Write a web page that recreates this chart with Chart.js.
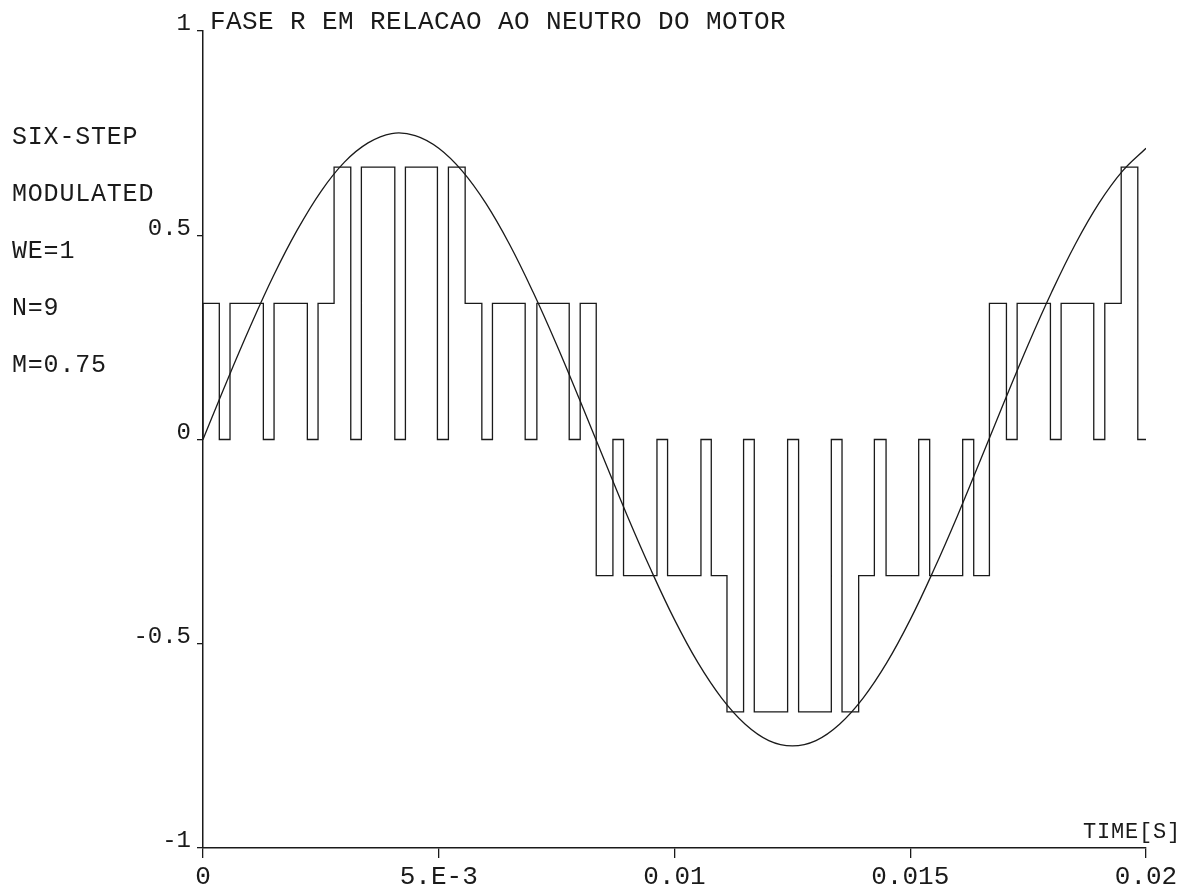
<!DOCTYPE html>
<html>
<head>
<meta charset="utf-8">
<script src="https://cdn.jsdelivr.net/npm/chart.js@4/dist/chart.umd.min.js"></script>
<style>
  html, body { margin: 0; padding: 0; background: #fff; }
  #wrap { width: 1196px; height: 890px; }
</style>
</head>
<body>
<div id="wrap"><canvas id="plot"></canvas></div>
<script>
// PWM phase voltage (edges in ms, level after each edge)
const stepTimesMs = [0, 0, 0.346, 0.573, 1.280, 1.507, 2.213, 2.440, 2.780, 3.134, 3.359,
  4.068, 4.293, 4.972, 5.205, 5.560, 5.914, 6.139, 6.833, 7.081, 7.767, 8.000, 8.340,
  8.694, 8.919, 9.628, 9.853, 10.561, 10.780, 11.113, 11.465, 11.692, 12.399, 12.632,
  13.326, 13.553, 13.906, 14.239, 14.487, 15.179, 15.412, 16.112, 16.346, 16.679, 17.040,
  17.267, 17.973, 18.200, 18.892, 19.126, 19.474, 19.826, 20.0];
const stepLevels = [0, 0.3333, 0, 0.3333, 0, 0.3333, 0, 0.3333, 0.6667, 0, 0.6667,
  0, 0.6667, 0, 0.6667, 0.3333, 0, 0.3333, 0, 0.3333, 0, 0.3333, -0.3333,
  0, -0.3333, 0, -0.3333, 0, -0.3333, -0.6667, 0, -0.6667, 0, -0.6667,
  0, -0.6667, -0.3333, 0, -0.3333, 0, -0.3333, 0, -0.3333, 0.3333, 0,
  0.3333, 0, 0.3333, 0, 0.3333, 0.6667, 0, 0];

// reference sine, sampled every 0.5 ms
const sineTimesMs = [0, 0.5, 1, 1.5, 2, 2.5, 3, 3.5, 4, 4.5, 5, 5.5, 6, 6.5, 7, 7.5, 8,
  8.5, 9, 9.5, 10, 10.5, 11, 11.5, 12, 12.5, 13, 13.5, 14, 14.5, 15, 15.5, 16, 16.5,
  17, 17.5, 18, 18.5, 19, 19.5, 20];
const sineValues = [0, 0.141, 0.276, 0.402, 0.513, 0.607, 0.679, 0.726, 0.749, 0.744,
  0.713, 0.657, 0.578, 0.478, 0.361, 0.232, 0.094, -0.047, -0.187, -0.319, -0.441,
  -0.547, -0.633, -0.697, -0.737, -0.750, -0.737, -0.697, -0.633, -0.547, -0.441,
  -0.319, -0.187, -0.047, 0.094, 0.232, 0.361, 0.478, 0.578, 0.657, 0.713];

const xTickLabels = ['0', '5.E-3', '0.01', '0.015', '0.02'];
const yTickLabels = ['-1', '-0.5', '0', '0.5', '1'];
const titleText = 'FASE R EM RELACAO AO NEUTRO DO MOTOR';
const sideNotes = ['SIX-STEP', 'MODULATED', 'WE=1', 'N=9', 'M=0.75'];
const xAxisName = 'TIME[S]';

const ink = '#1a1a1a';
const toPoints = (ts, vs) => ts.map((t, i) => ({ x: t / 1000, y: vs[i] }));

const annotate = {
  id: 'annotate',
  afterDraw(chart) {
    const ctx = chart.ctx;
    ctx.save();
    ctx.fillStyle = ink;
    ctx.textBaseline = 'alphabetic';
    ctx.textAlign = 'left';

    ctx.font = '26px "Liberation Mono"';
    ctx.letterSpacing = '0.4px';
    ctx.fillText(titleText, 210, 29);

    ctx.font = '25px "Liberation Mono"';
    ctx.letterSpacing = '0.8px';
    sideNotes.forEach((s, i) => ctx.fillText(s, 12, 144 + i * 57));

    ctx.font = '22px "Liberation Mono"';
    ctx.letterSpacing = '0.8px';
    ctx.textAlign = 'right';
    ctx.fillText(xAxisName, 1181, 838);
    ctx.restore();
  }
};

new Chart(document.getElementById('plot').getContext('2d'), {
  type: 'line',
  data: {
    datasets: [
      {
        label: 'PWM',
        data: toPoints(stepTimesMs, stepLevels),
        stepped: 'before',
        borderColor: ink,
        borderWidth: 1.3,
        pointRadius: 0,
        fill: false,
      },
      {
        label: 'seno',
        data: toPoints(sineTimesMs, sineValues),
        tension: 0.4,
        borderColor: ink,
        borderWidth: 1.3,
        pointRadius: 0,
        fill: false,
      },
    ],
  },
  options: {
    responsive: true,
    maintainAspectRatio: false,
    animation: false,
    events: [],
    layout: { padding: { left: 0, right: 50, top: 31, bottom: 0 } },
    plugins: {
      legend: { display: false },
      tooltip: { enabled: false },
    },
    scales: {
      x: {
        type: 'linear',
        min: 0,
        max: 0.02,
        border: { display: true, color: ink, width: 1.5 },
        grid: { drawOnChartArea: false, drawTicks: true, tickLength: 10, color: ink, lineWidth: 1.3 },
        ticks: {
          stepSize: 0.005,
          maxRotation: 0,
          padding: 4,
          color: ink,
          font: { family: 'Liberation Mono', size: 26 },
          callback: (v, i) => xTickLabels[i],
        },
        afterFit: (s) => { s.height = 42; s.paddingLeft = 0; s.paddingRight = 0; },
      },
      y: {
        min: -1,
        max: 1,
        border: { display: true, color: ink, width: 1.5 },
        grid: { drawOnChartArea: false, drawTicks: true, tickLength: 6, color: ink, lineWidth: 1.3 },
        ticks: {
          stepSize: 0.5,
          padding: 6,
          labelOffset: -7,
          color: ink,
          font: { family: 'Liberation Mono', size: 24 },
          callback: (v, i) => yTickLabels[i],
        },
        afterFit: (s) => { s.width = 203; s.paddingTop = 0; s.paddingBottom = 0; },
      },
    },
  },
  plugins: [annotate],
});
</script>
</body>
</html>
